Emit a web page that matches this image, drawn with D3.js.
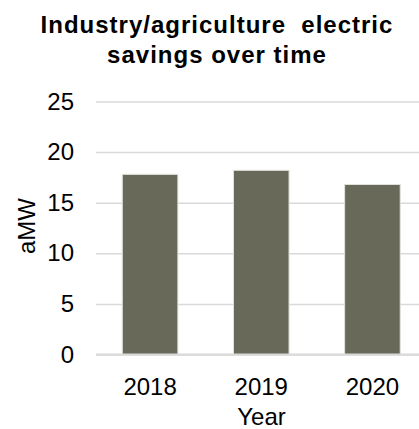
<!DOCTYPE html>
<html>
<head>
<meta charset="utf-8">
<script src="https://cdn.jsdelivr.net/npm/d3@7"></script>
<style>
  html, body { margin: 0; padding: 0; background: #fff; }
  svg { display: block; }
  text { font-family: "Liberation Sans", Arial, sans-serif; fill: #000; }
</style>
</head>
<body>
<svg id="chart" width="419" height="429"></svg>
<script>
// Annual savings, average megawatts
const years = ["2018", "2019", "2020"];
const savings = [17.8, 18.2, 16.8];
const yTicks = [0, 5, 10, 15, 20, 25];
const titleLines = ["Industry/agriculture\u00a0 electric", "savings over time"];
const xTitle = "Year";
const yTitle = "aMW";

const W = 419, H = 429;
const plot = { left: 96, right: 428, top: 101.5, bottom: 354.5 };
const labelSize = "24px";

const svg = d3.select("#chart");

const x = d3.scaleBand()
  .domain(years)
  .range([94.5, plot.right])
  .paddingInner(0.5)
  .paddingOuter(0.25);

const y = d3.scaleLinear()
  .domain([0, 25])
  .range([plot.bottom, plot.top]);

// Title
svg.append("g")
  .selectAll("text")
  .data(titleLines)
  .join("text")
  .attr("x", 217)
  .attr("y", (d, i) => 33 + i * 30)
  .attr("text-anchor", "middle")
  .style("font-size", "24px")
  .style("font-weight", "bold")
  .style("letter-spacing", "1px")
  .text(d => d);

// Y axis with gridlines
const yAxis = svg.append("g")
  .attr("transform", `translate(${plot.left},0)`)
  .call(d3.axisLeft(y).tickValues(yTicks).tickSize(-(W - plot.left)).tickPadding(22));
yAxis.select(".domain").remove();
yAxis.selectAll(".tick line")
  .attr("stroke", "#d9d9d9")
  .attr("stroke-width", 1.5);
yAxis.selectAll(".tick text")
  .style("font-size", labelSize)
  .style("font-family", "'Liberation Sans', Arial, sans-serif")
  .attr("fill", "#000");

// Bars
svg.append("g")
  .selectAll("rect")
  .data(years.map((yr, i) => ({ yr, v: savings[i] })))
  .join("rect")
  .attr("x", d => x(d.yr))
  .attr("y", d => y(d.v))
  .attr("width", x.bandwidth())
  .attr("height", d => y(0) - y(d.v))
  .attr("fill", "#686958")
  .attr("stroke", "#e2e2dc")
  .attr("stroke-width", 1);

// Baseline
svg.append("line")
  .attr("x1", plot.left).attr("x2", W)
  .attr("y1", y(0)).attr("y2", y(0))
  .attr("stroke", "#d9d9d9")
  .attr("stroke-width", 2);

// X axis labels
const xAxis = svg.append("g")
  .attr("transform", `translate(0,${plot.bottom})`)
  .call(d3.axisBottom(x).tickSize(0));
xAxis.select(".domain").remove();
xAxis.selectAll(".tick text")
  .attr("y", 40.5)
  .attr("dy", 0)
  .style("font-size", labelSize)
  .style("font-family", "'Liberation Sans', Arial, sans-serif")
  .attr("fill", "#000");

// Axis titles
svg.append("text")
  .attr("x", 261.5)
  .attr("y", 425)
  .attr("text-anchor", "middle")
  .style("font-size", labelSize)
  .text(xTitle);

svg.append("text")
  .attr("transform", `translate(35,226) rotate(-90)`)
  .attr("text-anchor", "middle")
  .style("font-size", labelSize)
  .text(yTitle);
</script>
</body>
</html>
